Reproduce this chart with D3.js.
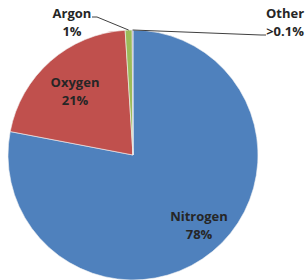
<!DOCTYPE html>
<html><head><meta charset="utf-8">
<script src="https://cdn.jsdelivr.net/npm/d3@7"></script>
<style>html,body{margin:0;padding:0;background:#fff;}svg{display:block;}</style>
</head><body>
<script>
const categories = ["Nitrogen", "Oxygen", "Argon", "Other"];
const values = [78, 21, 0.9, 0.1];
const pctLabels = ["78%", "21%", "1%", ">0.1%"];
const colors = ["#4F81BD", "#C0504D", "#9BBB59", "#8064A2"];

const W = 306, H = 280, cx = 133, cy = 155, R = 125;
const svg = d3.select("body").append("svg").attr("width", W).attr("height", H);
const g = svg.append("g").attr("transform", `translate(${cx},${cy})`);

const pie = d3.pie().sort(null).value(d => d)(values);
const arc = d3.arc().innerRadius(0).outerRadius(R);

g.selectAll("path.slice").data(pie).join("path")
  .attr("class", "slice")
  .attr("d", arc)
  .attr("fill", (d, i) => colors[i])
  .attr("stroke", "#f4f4f4").attr("stroke-width", 0.6);

// label positions (relative to center)
const labelPos = [[66, 66], [-58, -68], [-61, -137], [152, -137]];
const font = "'Open Sans', sans-serif";
categories.forEach((c, i) => {
  const [x, y] = labelPos[i];
  const t = g.append("text").attr("x", x).attr("y", y)
    .attr("text-anchor", "middle").attr("font-family", font)
    .attr("font-weight", "bold").attr("font-size", 13).attr("fill", "#262626");
  t.append("tspan").attr("x", x).attr("dy", 0).text(c);
  t.append("tspan").attr("x", x).attr("dy", 18).text(pctLabels[i]);
});

// leader lines
const outer = d3.arc().innerRadius(R).outerRadius(R);
const argC = outer.centroid(pie[2]);
const othC = outer.centroid(pie[3]);
g.append("polyline").attr("points", [[-41, -138], [-36, -138], argC].map(p => p.join(",")).join(" "))
  .attr("fill", "none").attr("stroke", "#404040").attr("stroke-width", 1);
g.append("polyline").attr("points", [othC, [128, -120], [133, -120]].map(p => p.join(",")).join(" "))
  .attr("fill", "none").attr("stroke", "#404040").attr("stroke-width", 1);
</script>
</body></html>
